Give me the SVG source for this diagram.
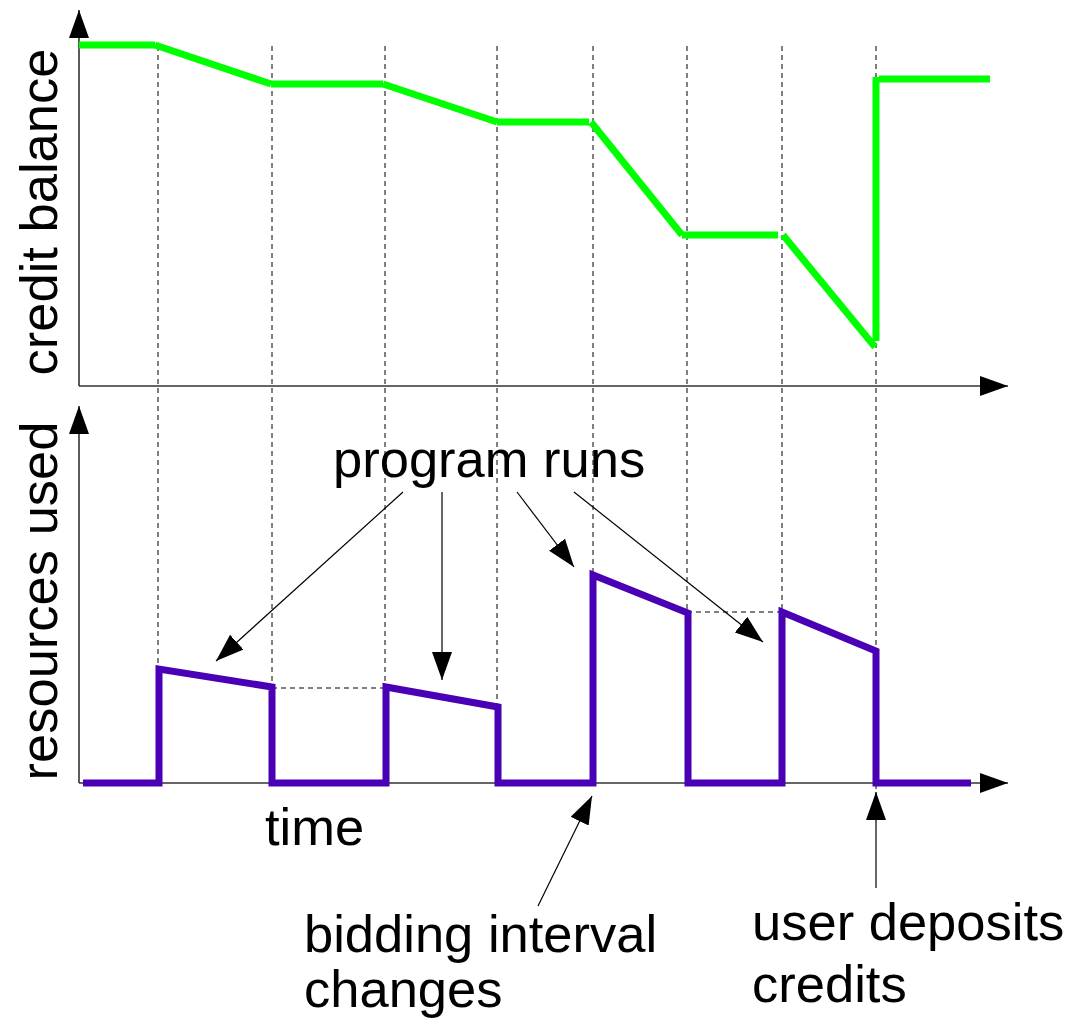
<svg xmlns="http://www.w3.org/2000/svg" width="1068" height="1026" viewBox="0 0 1068 1026">
<style>
.txt{font-family:"Liberation Sans",Arial,sans-serif;font-size:52.5px;fill:#000}
.axis{stroke:#333;stroke-width:1.6;fill:none}
.guide{stroke:#000;stroke-width:1;stroke-dasharray:5 4;fill:none}
.credit{stroke:#00ff00;stroke-width:7;fill:none;stroke-linecap:butt}
.res{stroke:#4a00b4;stroke-width:7;fill:none;stroke-linejoin:miter;stroke-linecap:butt}
.ann{stroke:#000;stroke-width:1.2;fill:none}
</style>
<defs>
<marker id="ah" markerUnits="userSpaceOnUse" markerWidth="32" markerHeight="22" refX="28" refY="10" orient="auto">
<path d="M0,0 L28,10 L0,20 z" fill="#000"/>
</marker>
</defs>
<rect width="1068" height="1026" fill="#fff"/>

<g id="guides">
<line class="guide" x1="158" y1="46" x2="158" y2="668"/>
<line class="guide" x1="272" y1="46" x2="272" y2="687"/>
<line class="guide" x1="385" y1="46" x2="385" y2="687"/>
<line class="guide" x1="497" y1="46" x2="497" y2="705"/>
<line class="guide" x1="593" y1="46" x2="593" y2="575"/>
<line class="guide" x1="687" y1="46" x2="687" y2="612"/>
<line class="guide" x1="782" y1="46" x2="782" y2="612"/>
<line class="guide" x1="876" y1="46" x2="876" y2="800"/>
<line class="guide" x1="272" y1="688" x2="385" y2="688"/>
<line class="guide" x1="687" y1="612" x2="782" y2="612"/>
</g>

<g id="axes">
<line class="axis" x1="79" y1="386" x2="79" y2="10" marker-end="url(#ah)"/>
<line class="axis" x1="79" y1="386" x2="1008" y2="386" marker-end="url(#ah)"/>
<line class="axis" x1="79" y1="783" x2="79" y2="406" marker-end="url(#ah)"/>
<line class="axis" x1="79" y1="783" x2="1008" y2="783" marker-end="url(#ah)"/>
</g>

<g id="credit-balance-curve">
<line class="credit" x1="79" y1="45" x2="155" y2="45"/>
<line class="credit" x1="155" y1="45" x2="271" y2="84"/>
<line class="credit" x1="271" y1="84" x2="383" y2="84"/>
<line class="credit" x1="383" y1="84" x2="497" y2="122"/>
<line class="credit" x1="497" y1="122" x2="589" y2="122"/>
<line class="credit" x1="591" y1="122" x2="682" y2="235"/>
<line class="credit" x1="682" y1="235" x2="778" y2="235"/>
<line class="credit" x1="783" y1="235" x2="875" y2="347"/>
<line class="credit" x1="876" y1="341" x2="876" y2="77"/>
<line class="credit" x1="879" y1="79" x2="990" y2="79"/>
</g>

<g id="resources-curve">
<polyline class="res" points="83,783 159,783 159,669 272,687 272,783 386,783 386,687 498,707 498,783 593,783 593,575 688,613 688,783 782,783 782,612 876,651 876,783 971,783"/>
</g>

<g id="labels">
<text class="txt" transform="translate(57,212) rotate(-90)" text-anchor="middle">credit balance</text>
<text class="txt" transform="translate(57,601) rotate(-90)" text-anchor="middle">resources used</text>
<text class="txt" x="333" y="477">program runs</text>
<text class="txt" x="265" y="845">time</text>
<text class="txt" x="304" y="952">bidding interval</text>
<text class="txt" x="304" y="1007">changes</text>
<text class="txt" x="752" y="940">user deposits</text>
<text class="txt" x="752" y="1002">credits</text>
</g>

<g id="connectors">
<line class="ann" x1="403" y1="492" x2="216" y2="661" marker-end="url(#ah)"/>
<line class="ann" x1="442" y1="492" x2="442" y2="680" marker-end="url(#ah)"/>
<line class="ann" x1="517" y1="492" x2="574" y2="567" marker-end="url(#ah)"/>
<line class="ann" x1="574" y1="492" x2="763" y2="642" marker-end="url(#ah)"/>
<line class="ann" x1="538" y1="906" x2="592" y2="796" marker-end="url(#ah)"/>
<line class="ann" x1="876" y1="888" x2="876" y2="792" marker-end="url(#ah)"/>
</g>
</svg>
